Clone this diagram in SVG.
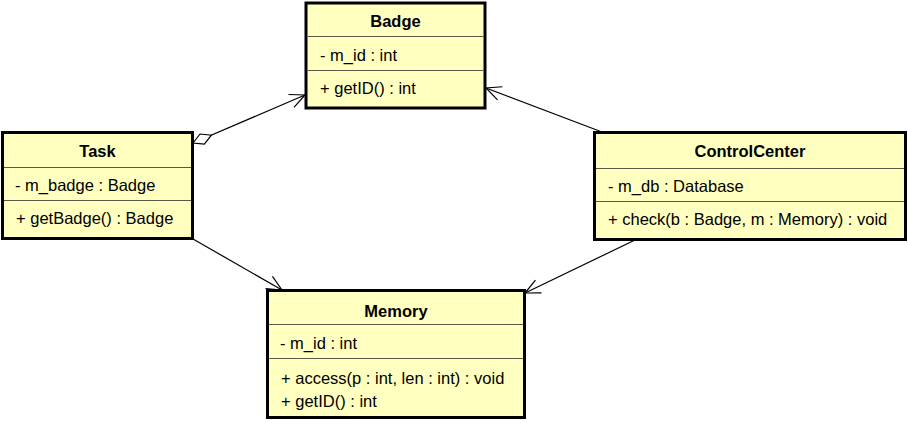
<svg xmlns="http://www.w3.org/2000/svg" width="908" height="424" viewBox="0 0 908 424">
<style>
.box{fill:#ffffc0;stroke:#000;stroke-width:3}
.div{stroke:#5a5a48;stroke-width:1}
.t{font-family:"Liberation Sans",Arial,sans-serif;font-size:16.5px;fill:#000}
.b{font-weight:bold;text-anchor:middle}
.c{stroke:#000;stroke-width:1.2;fill:none}
</style>
<defs>
<marker id="open" markerUnits="userSpaceOnUse" markerWidth="20" markerHeight="20" refX="16" refY="8" orient="auto" viewBox="0 0 20 16">
<path d="M1,1 L16,8 L1,15" fill="none" stroke="#000" stroke-width="1.2"/>
</marker>
<marker id="dia" markerUnits="userSpaceOnUse" markerWidth="24" markerHeight="14" refX="1" refY="7" orient="auto" viewBox="0 0 24 14">
<path d="M1,7 L11,1.5 L21,7 L11,12.5 Z" fill="#fff" stroke="#000" stroke-width="1.2"/>
</marker>
</defs>
<g id="connectors">
<line class="c" x1="193" y1="143" x2="305" y2="95" marker-start="url(#dia)" marker-end="url(#open)"/>
<line class="c" x1="602" y1="132" x2="486" y2="88" marker-end="url(#open)"/>
<line class="c" x1="193" y1="239" x2="282" y2="290" marker-end="url(#open)"/>
<line class="c" x1="635" y1="240" x2="525" y2="293" marker-end="url(#open)"/>
</g>
<g id="Badge">
<rect class="box" x="306" y="3" width="179" height="105"/>
<line class="div" x1="307.5" y1="36.5" x2="483.5" y2="36.5"/>
<line class="div" x1="307.5" y1="70.5" x2="483.5" y2="70.5"/>
<text class="t b" x="395.5" y="27">Badge</text>
<text class="t" x="320" y="61">- m_id : int</text>
<text class="t" x="320" y="94">+ getID() : int</text>
</g>
<g id="Task">
<rect class="box" x="2.5" y="132.5" width="190" height="106"/>
<line class="div" x1="4" y1="167.5" x2="191" y2="167.5"/>
<line class="div" x1="4" y1="200.5" x2="191" y2="200.5"/>
<text class="t b" x="97.5" y="157">Task</text>
<text class="t" x="15" y="191">- m_badge : Badge</text>
<text class="t" x="16" y="224">+ getBadge() : Badge</text>
</g>
<g id="ControlCenter">
<rect class="box" x="594.5" y="132.5" width="311" height="107"/>
<line class="div" x1="596" y1="168.5" x2="904" y2="168.5"/>
<line class="div" x1="596" y1="201.5" x2="904" y2="201.5"/>
<text class="t b" x="750" y="157">ControlCenter</text>
<text class="t" x="608" y="192">- m_db : Database</text>
<text class="t" x="608" y="225">+ check(b : Badge, m : Memory) : void</text>
</g>
<g id="Memory">
<rect class="box" x="267.5" y="290.5" width="257" height="127"/>
<line class="div" x1="269" y1="324.5" x2="523" y2="324.5"/>
<line class="div" x1="269" y1="358.5" x2="523" y2="358.5"/>
<text class="t b" x="396" y="317">Memory</text>
<text class="t" x="280" y="349">- m_id : int</text>
<text class="t" x="281" y="384">+ access(p : int, len : int) : void</text>
<text class="t" x="281" y="407">+ getID() : int</text>
</g>
</svg>
